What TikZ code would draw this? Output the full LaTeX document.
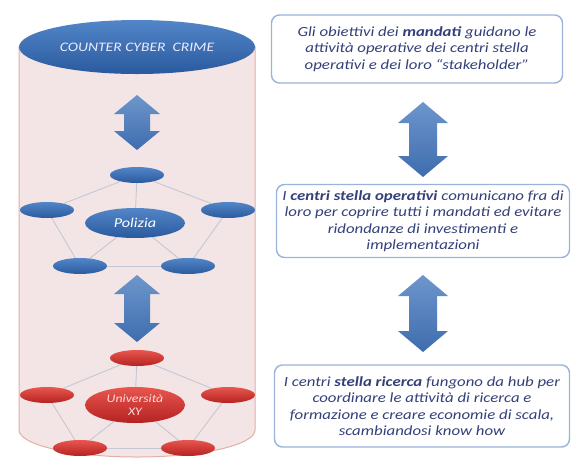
\documentclass[tikz,border=0pt]{standalone}
\usepackage{fontspec}
\setmainfont{Carlito}[FakeStretch=1.2, ItalicFont={Carlito Italic}, BoldItalicFont={Carlito Bold Italic}, BoldFont={Carlito Bold}]
\usetikzlibrary{shapes.geometric}
\pgfdeclarelayer{bg}
\pgfsetlayers{bg,main}
\definecolor{cylfill}{HTML}{F3E5E5}
\definecolor{cyldraw}{HTML}{E3AEA6}
\definecolor{netline}{HTML}{C4C8D4}
\definecolor{boxdraw}{HTML}{9AB3DB}
\definecolor{txtc}{HTML}{34407A}
\definecolor{blueA}{HTML}{5286C8}
\definecolor{blueB}{HTML}{2A5A9E}
\definecolor{redA}{HTML}{E8564E}
\definecolor{redB}{HTML}{B52222}
\definecolor{arrA}{HTML}{6E96CC}
\definecolor{arrB}{HTML}{3E6CAE}
\tikzset{
  bell/.style={ellipse, inner sep=0pt, top color=blueA, bottom color=blueB, draw=none,
    text=white, font=\itshape\fontsize{12}{13}\selectfont, align=center},
  rell/.style={ellipse, inner sep=0pt, top color=redA, bottom color=redB, draw=none,
    text=white!85!red, font=\itshape\fontsize{11.5}{13}\selectfont, align=center},
  smallell/.style={minimum width=54pt, minimum height=16pt},
  net/.style={draw=netline, line width=0.9pt},
  infobox/.style={rectangle, rounded corners=8pt, draw=boxdraw, line width=1.4pt, fill=white,
    align=center, text=txtc, font=\itshape\fontsize{14}{16.5}\selectfont, inner sep=2pt},
  arrfill/.style={top color=arrA, bottom color=arrB, draw=none}
}
\newcommand\DblArr[6]{% cx, top, bottom, head half, shaft half, head length
  \path[arrfill] (#1,#2) -- ({#1+#4},{#2+#6}) -- ({#1+#5},{#2+#6}) -- ({#1+#5},{#3-#6})
   -- ({#1+#4},{#3-#6}) -- (#1,#3) -- ({#1-#4},{#3-#6}) -- ({#1-#5},{#3-#6})
   -- ({#1-#5},{#2+#6}) -- ({#1-#4},{#2+#6}) -- cycle;}
\begin{document}
\begin{tikzpicture}[x=1pt,y=-1pt]
\useasboundingbox (0,0) rectangle (579,467);
% cylinder body
\begin{pgfonlayer}{bg}
\fill[cylfill] (19,46) -- (19,430) arc[start angle=180, end angle=0, x radius=118, y radius=27] -- (255,46) -- cycle;
\draw[cyldraw, line width=1pt] (19,46) -- (19,430) arc[start angle=180, end angle=0, x radius=118, y radius=27] -- (255,46);
\end{pgfonlayer}
% top ellipse
\node[bell, minimum width=236pt, minimum height=54pt, text=blue!8!white, font=\itshape\fontsize{13}{14}\selectfont] (ccc) at (137,47) {COUNTER CYBER\ \ CRIME};
% left arrows
\DblArr{137}{95}{150}{23}{13}{19}
\DblArr{137}{275}{342}{23}{13}{19}
% blue network
\node[bell, smallell] (bt) at (137,175) {};
\node[bell, smallell] (bl) at (47,210) {};
\node[bell, smallell] (br) at (228,210) {};
\node[bell, minimum width=100pt, minimum height=30pt, font=\itshape\fontsize{13.5}{14}\selectfont] (pol) at (135,223) {Polizia};
\node[bell, smallell] (bbl) at (80,266) {};
\node[bell, smallell] (bbr) at (188,266) {};
% red network
\node[rell, smallell] (rt) at (137,358) {};
\node[rell, smallell] (rl) at (47,395) {};
\node[rell, smallell] (rr) at (228,395) {};
\node[rell, minimum width=100pt, minimum height=36pt] (uni) at (135,405) {Università\\XY};
\node[rell, smallell] (rbl) at (80,448) {};
\node[rell, smallell] (rbr) at (188,448) {};
\begin{pgfonlayer}{bg}
\draw[net] (bt) -- (bl); \draw[net] (bt) -- (br); \draw[net] (bt) -- (pol);
\draw[net] (bl) -- (bbl); \draw[net] (br) -- (bbr); \draw[net] (bbl) -- (bbr);
\draw[net] (pol) -- (bbl); \draw[net] (pol) -- (bbr);
\draw[net] (rt) -- (rl); \draw[net] (rt) -- (rr); \draw[net] (rt) -- (uni);
\draw[net] (rl) -- (rbl); \draw[net] (rr) -- (rbr); \draw[net] (rbl) -- (rbr);
\draw[net] (uni) -- (rbl); \draw[net] (uni) -- (rbr);
\end{pgfonlayer}
% right boxes
\node[infobox, minimum width=291pt, minimum height=68pt] (b1) at (417,49)
 {Gli obiettivi dei \textbf{mandati} guidano le\\attività operative dei centri stella\\operativi e dei loro “stakeholder”};
\node[infobox, minimum width=293pt, minimum height=73pt] (b2) at (423,221)
 {I \textbf{centri stella operativi} comunicano fra di\\loro per coprire tutti i mandati ed evitare\\ridondanze di investimenti e\\implementazioni};
\node[infobox, minimum width=295pt, minimum height=82pt] (b3) at (422,406)
 {I centri \textbf{stella ricerca} fungono da hub per\\coordinare le attività di ricerca e\\formazione e creare economie di scala,\\scambiandosi know how};
% right arrows
\DblArr{423}{102}{177}{25}{14}{21}
\DblArr{423}{275}{352}{25}{14}{21}
\end{tikzpicture}
\end{document}
